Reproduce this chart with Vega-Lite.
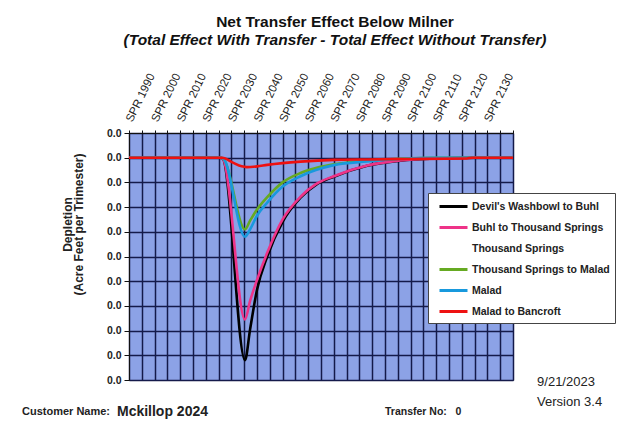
{
  "$schema": "https://vega.github.io/schema/vega-lite/v6.json",
  "width": 384,
  "height": 247,
  "autosize": "none",
  "padding": {"left": 129, "top": 133, "right": 126, "bottom": 49},
  "background": "white",
  "title": {
    "text": "Net Transfer Effect Below Milner",
    "subtitle": "(Total Effect With Transfer - Total Effect Without Transfer)",
    "anchor": "middle",
    "dx": 14,
    "offset": 23,
    "font": "Liberation Sans",
    "fontSize": 15.5,
    "fontWeight": "bold",
    "color": "#111",
    "subtitleFont": "Liberation Sans",
    "subtitleFontSize": 15.5,
    "subtitleFontWeight": "bold",
    "subtitleFontStyle": "italic",
    "subtitleColor": "#111",
    "subtitlePadding": 2
  },
  "resolve": {"axis": {"x": "independent", "y": "independent"}},
  "config": {
    "view": {"fill": "#8ca2e6", "stroke": "#333"},
    "legend": {
      "orient": "none",
      "legendX": 299,
      "legendY": 60,
      "fillColor": "white",
      "strokeColor": "#444",
      "padding": 5,
      "symbolType": "M-2,0H2",
      "symbolSize": 196,
      "symbolOffset": 12,
      "symbolStrokeWidth": 3,
      "labelFont": "Liberation Sans",
      "labelFontSize": 10.5,
      "labelFontWeight": "bold",
      "labelColor": "#222",
      "rowPadding": 6,
      "labelLimit": 300,
      "labelOffset": 10
    }
  },
  "layer": [
    {
      "data": {
        "values": [
          {"series": "Devil's Washbowl to Buhl", "year": 1990, "value": 0},
          {"series": "Devil's Washbowl to Buhl", "year": 2026, "value": 0},
          {"series": "Devil's Washbowl to Buhl", "year": 2027, "value": -0.0001},
          {"series": "Devil's Washbowl to Buhl", "year": 2035.3, "value": -0.0082},
          {"series": "Devil's Washbowl to Buhl", "year": 2037.3, "value": -0.00695},
          {"series": "Devil's Washbowl to Buhl", "year": 2040, "value": -0.00535},
          {"series": "Devil's Washbowl to Buhl", "year": 2044, "value": -0.004},
          {"series": "Devil's Washbowl to Buhl", "year": 2050, "value": -0.0026},
          {"series": "Devil's Washbowl to Buhl", "year": 2057, "value": -0.00162},
          {"series": "Devil's Washbowl to Buhl", "year": 2063, "value": -0.0011},
          {"series": "Devil's Washbowl to Buhl", "year": 2070, "value": -0.00077},
          {"series": "Devil's Washbowl to Buhl", "year": 2083, "value": -0.00033},
          {"series": "Devil's Washbowl to Buhl", "year": 2096, "value": -0.00012},
          {"series": "Devil's Washbowl to Buhl", "year": 2110, "value": -0.00003},
          {"series": "Devil's Washbowl to Buhl", "year": 2125, "value": 0},
          {"series": "Devil's Washbowl to Buhl", "year": 2140, "value": 0},
          {"series": "Buhl to Thousand Springs", "year": 1990, "value": 0},
          {"series": "Buhl to Thousand Springs", "year": 2026, "value": 0},
          {"series": "Buhl to Thousand Springs", "year": 2027, "value": -0.0001},
          {"series": "Buhl to Thousand Springs", "year": 2035.3, "value": -0.00655},
          {"series": "Buhl to Thousand Springs", "year": 2037.3, "value": -0.0058},
          {"series": "Buhl to Thousand Springs", "year": 2040, "value": -0.00495},
          {"series": "Buhl to Thousand Springs", "year": 2044, "value": -0.00385},
          {"series": "Buhl to Thousand Springs", "year": 2050, "value": -0.0025},
          {"series": "Buhl to Thousand Springs", "year": 2057, "value": -0.00158},
          {"series": "Buhl to Thousand Springs", "year": 2063, "value": -0.00107},
          {"series": "Buhl to Thousand Springs", "year": 2070, "value": -0.00075},
          {"series": "Buhl to Thousand Springs", "year": 2083, "value": -0.00032},
          {"series": "Buhl to Thousand Springs", "year": 2096, "value": -0.00011},
          {"series": "Buhl to Thousand Springs", "year": 2110, "value": -0.00003},
          {"series": "Buhl to Thousand Springs", "year": 2125, "value": 0},
          {"series": "Buhl to Thousand Springs", "year": 2140, "value": 0},
          {"series": "Thousand Springs", "year": 1990, "value": 0},
          {"series": "Thousand Springs", "year": 2140, "value": 0},
          {"series": "Thousand Springs to Malad", "year": 1990, "value": 0},
          {"series": "Thousand Springs to Malad", "year": 2026, "value": 0},
          {"series": "Thousand Springs to Malad", "year": 2027, "value": -0.00005},
          {"series": "Thousand Springs to Malad", "year": 2035.3, "value": -0.0029},
          {"series": "Thousand Springs to Malad", "year": 2037.3, "value": -0.00255},
          {"series": "Thousand Springs to Malad", "year": 2040, "value": -0.0021},
          {"series": "Thousand Springs to Malad", "year": 2044, "value": -0.0016},
          {"series": "Thousand Springs to Malad", "year": 2050, "value": -0.001},
          {"series": "Thousand Springs to Malad", "year": 2057, "value": -0.00062},
          {"series": "Thousand Springs to Malad", "year": 2063, "value": -0.00042},
          {"series": "Thousand Springs to Malad", "year": 2070, "value": -0.00027},
          {"series": "Thousand Springs to Malad", "year": 2083, "value": -0.00012},
          {"series": "Thousand Springs to Malad", "year": 2096, "value": -0.00004},
          {"series": "Thousand Springs to Malad", "year": 2110, "value": 0},
          {"series": "Thousand Springs to Malad", "year": 2140, "value": 0},
          {"series": "Malad", "year": 1990, "value": 0},
          {"series": "Malad", "year": 2026, "value": 0},
          {"series": "Malad", "year": 2027, "value": -0.00005},
          {"series": "Malad", "year": 2035.3, "value": -0.0032},
          {"series": "Malad", "year": 2037.3, "value": -0.0029},
          {"series": "Malad", "year": 2040, "value": -0.00235},
          {"series": "Malad", "year": 2044, "value": -0.00182},
          {"series": "Malad", "year": 2050, "value": -0.00117},
          {"series": "Malad", "year": 2057, "value": -0.00075},
          {"series": "Malad", "year": 2063, "value": -0.0005},
          {"series": "Malad", "year": 2070, "value": -0.0003},
          {"series": "Malad", "year": 2083, "value": -0.00015},
          {"series": "Malad", "year": 2096, "value": -0.00005},
          {"series": "Malad", "year": 2110, "value": 0},
          {"series": "Malad", "year": 2140, "value": 0},
          {"series": "Malad to Bancroft", "year": 1990, "value": 0},
          {"series": "Malad to Bancroft", "year": 2026.5, "value": 0},
          {"series": "Malad to Bancroft", "year": 2030.6, "value": -0.0002},
          {"series": "Malad to Bancroft", "year": 2034, "value": -0.00035},
          {"series": "Malad to Bancroft", "year": 2036, "value": -0.00038},
          {"series": "Malad to Bancroft", "year": 2040, "value": -0.00035},
          {"series": "Malad to Bancroft", "year": 2044, "value": -0.00029},
          {"series": "Malad to Bancroft", "year": 2050, "value": -0.00022},
          {"series": "Malad to Bancroft", "year": 2057, "value": -0.00016},
          {"series": "Malad to Bancroft", "year": 2070, "value": -0.00009},
          {"series": "Malad to Bancroft", "year": 2083, "value": -0.00007},
          {"series": "Malad to Bancroft", "year": 2100, "value": -0.00005},
          {"series": "Malad to Bancroft", "year": 2122, "value": -0.00003},
          {"series": "Malad to Bancroft", "year": 2124, "value": 0},
          {"series": "Malad to Bancroft", "year": 2140, "value": 0}
        ]
      },
      "mark": {"type": "line", "strokeWidth": 2.6, "interpolate": "monotone", "clip": true},
      "encoding": {
        "x": {
          "field": "year",
          "type": "quantitative",
          "scale": {"domain": [1990, 2140], "nice": false, "zero": false},
          "axis": {
            "orient": "top",
            "title": null,
            "values": [1990, 1995, 2000, 2005, 2010, 2015, 2020, 2025, 2030, 2035, 2040, 2045, 2050, 2055, 2060, 2065, 2070, 2075, 2080, 2085, 2090, 2095, 2100, 2105, 2110, 2115, 2120, 2125, 2130, 2135, 2140],
            "labelExpr": "datum.value % 10 == 0 && datum.value < 2140 ? 'SPR ' + datum.value : ''",
            "labelAngle": -64,
            "labelAlign": "left",
            "labelBaseline": "middle",
            "labelFont": "Liberation Sans",
            "labelFontSize": 11.5,
            "labelColor": "#222",
            "labelPadding": 9,
            "labelOverlap": false,
            "labelFlush": false,
            "labelBound": false,
            "grid": true,
            "gridColor": "#141a4a",
            "gridWidth": 1.5,
            "gridOpacity": 1,
            "tickSize": 3,
            "tickColor": "#111",
            "domainColor": "#111"
          }
        },
        "y": {
          "field": "value",
          "type": "quantitative",
          "scale": {"domain": [-0.009, 0.001], "nice": false, "zero": false},
          "axis": {
            "values": [0.001, 0, -0.001, -0.002, -0.003, -0.004, -0.005, -0.006, -0.007, -0.008, -0.009],
            "labelExpr": "'0.0'",
            "labelFont": "Liberation Sans",
            "labelFontSize": 10.5,
            "labelFontWeight": "bold",
            "labelColor": "#222",
            "labelPadding": 3,
            "tickSize": 5,
            "tickColor": "#111",
            "domainColor": "#111",
            "grid": true,
            "gridColor": "#141a4a",
            "gridWidth": 1.5,
            "gridOpacity": 1,
            "title": ["Depletion", "(Acre Feet per Trimester)"],
            "titleFont": "Liberation Sans",
            "titleFontSize": 12,
            "titleFontWeight": "bold",
            "titleColor": "#222",
            "titleX": -55,
            "titleY": 91,
            "titleLineHeight": 11
          }
        },
        "color": {
          "field": "series",
          "type": "nominal",
          "sort": null,
          "scale": {
            "domain": ["Devil's Washbowl to Buhl", "Buhl to Thousand Springs", "Thousand Springs", "Thousand Springs to Malad", "Malad", "Malad to Bancroft"],
            "range": ["#000000", "#ee3388", "rgba(0,0,0,0)", "#66aa22", "#1899dd", "#ee1111"]
          },
          "legend": {"title": null}
        }
      }
    },
    {
      "data": {"values": [{}]},
      "mark": {"type": "text", "align": "left", "baseline": "middle", "font": "Liberation Sans", "fontSize": 11, "fontWeight": "bold", "color": "#222", "clip": false},
      "encoding": {
        "x": {"datum": 1948.2, "type": "quantitative", "axis": null},
        "y": {"datum": -0.0103, "type": "quantitative", "axis": null},
        "text": {"value": "Customer Name:"}
      }
    },
    {
      "data": {"values": [{}]},
      "mark": {"type": "text", "align": "left", "baseline": "middle", "font": "Liberation Sans", "fontSize": 14, "fontWeight": "bold", "color": "#222", "clip": false},
      "encoding": {
        "x": {"datum": 1985.3, "type": "quantitative", "axis": null},
        "y": {"datum": -0.0103, "type": "quantitative", "axis": null},
        "text": {"value": "Mckillop 2024"}
      }
    },
    {
      "data": {"values": [{}]},
      "mark": {"type": "text", "align": "left", "baseline": "middle", "font": "Liberation Sans", "fontSize": 10.5, "fontWeight": "bold", "color": "#222", "clip": false},
      "encoding": {
        "x": {"datum": 2090, "type": "quantitative", "axis": null},
        "y": {"datum": -0.0103, "type": "quantitative", "axis": null},
        "text": {"value": "Transfer No:\u00a0\u00a0 0"}
      }
    },
    {
      "data": {"values": [{}]},
      "mark": {"type": "text", "align": "left", "baseline": "middle", "font": "Liberation Sans", "fontSize": 13, "color": "#222", "clip": false},
      "encoding": {
        "x": {"datum": 2149.4, "type": "quantitative", "axis": null},
        "y": {"datum": -0.00908, "type": "quantitative", "axis": null},
        "text": {"value": "9/21/2023"}
      }
    },
    {
      "data": {"values": [{}]},
      "mark": {"type": "text", "align": "left", "baseline": "middle", "font": "Liberation Sans", "fontSize": 13, "color": "#222", "clip": false},
      "encoding": {
        "x": {"datum": 2149.4, "type": "quantitative", "axis": null},
        "y": {"datum": -0.00989, "type": "quantitative", "axis": null},
        "text": {"value": "Version 3.4"}
      }
    }
  ]
}
